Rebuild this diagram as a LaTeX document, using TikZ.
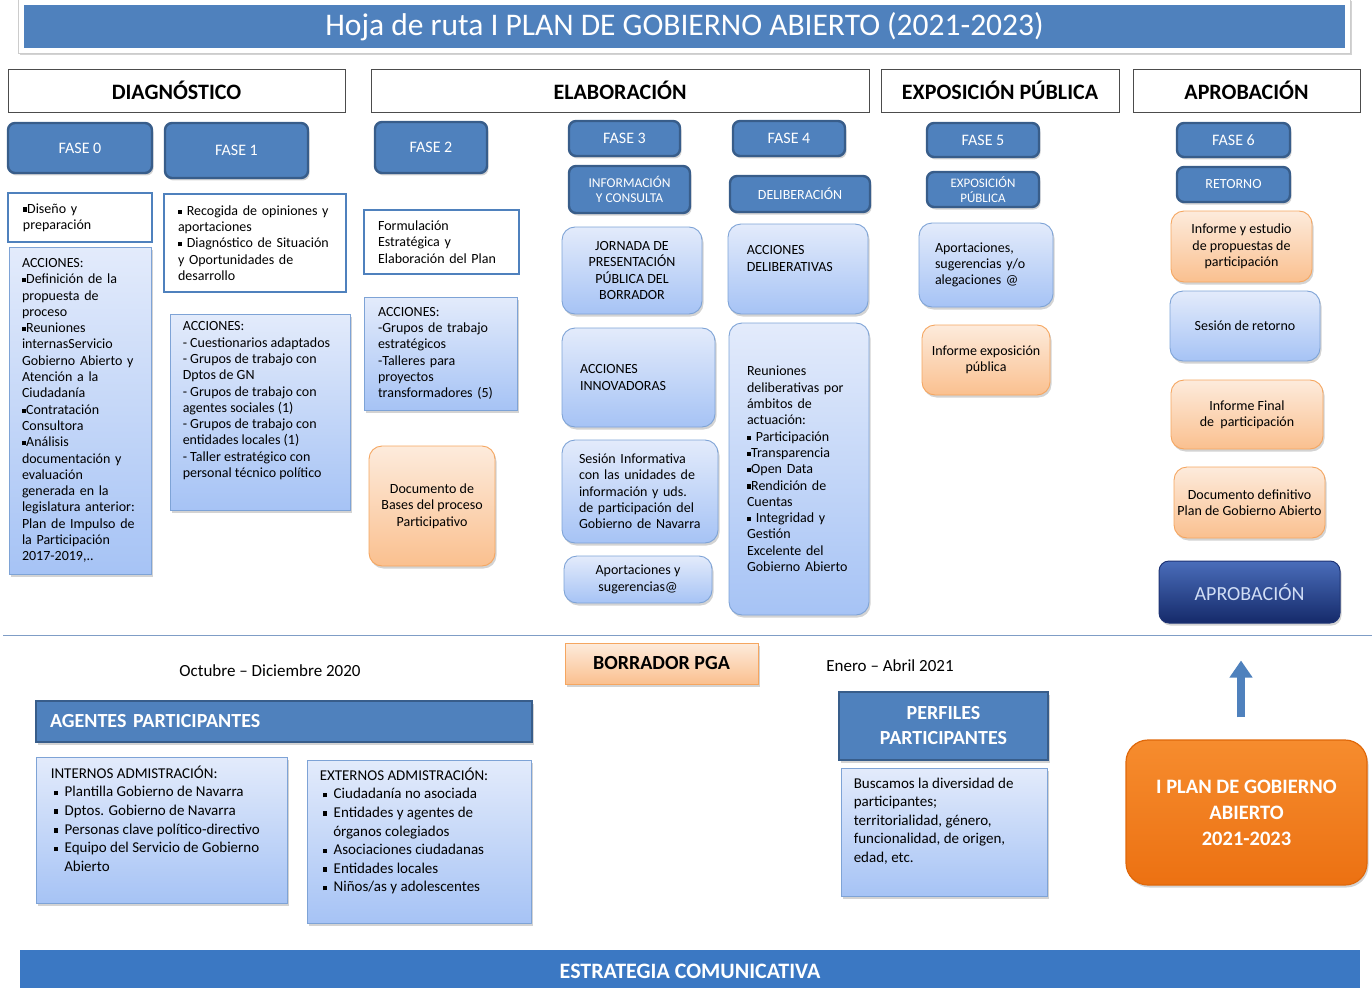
\documentclass[tikz,border=0pt]{standalone}
\usepackage{fontspec}
\setmainfont{Carlito}
\usetikzlibrary{shadows,arrows.meta}

\definecolor{azul}{HTML}{4F81BD}
\definecolor{azulborde}{HTML}{385D8A}
\definecolor{celestearriba}{HTML}{E3EBFB}
\definecolor{celesteabajo}{HTML}{A6C3F5}
\definecolor{celesteborde}{HTML}{7EA3D6}
\definecolor{naranjaarriba}{HTML}{FDEBDC}
\definecolor{naranjaabajo}{HTML}{FAC08F}
\definecolor{naranjaborde}{HTML}{F5A660}
\definecolor{planarriba}{HTML}{F68C2E}
\definecolor{planabajo}{HTML}{EC7112}
\definecolor{planborde}{HTML}{E0680A}
\definecolor{marinoarriba}{HTML}{4A6DBA}
\definecolor{marinoabajo}{HTML}{152A6A}
\definecolor{marinoborde}{HTML}{1E3475}
\definecolor{marinotexto}{HTML}{D0DDF5}
\definecolor{franja}{HTML}{3B78C3}
\definecolor{linea}{HTML}{7F9DC6}

\newcommand{\bul}{\rule[.22ex]{.62ex}{.62ex}}
\newcommand{\vineta}{\hspace*{3pt}\bul\hspace{6.5pt}}

\begin{document}
\begin{tikzpicture}[x=1pt,y=-1pt,inner sep=2pt,
    sombra/.style={drop shadow={shadow xshift=1.5pt,shadow yshift=-2.5pt,opacity=.35}},
    etapa/.style={draw=black!70,fill=white,line width=.9pt,font=\fontsize{22}{24}\selectfont\bfseries},
    fase/.style={draw=azulborde,fill=azul,line width=2.4pt,rounded corners=7pt,text=white,sombra,font=\fontsize{16}{18}\selectfont},
    subfase/.style={fase,align=center,font=\fontsize{13.5}{15.5}\selectfont},
    marco/.style={draw=azul,fill=white,line width=2.4pt,align=left,font=\fontsize{14}{16.3}\selectfont},
    celeste/.style={draw=celesteborde,top color=celestearriba,bottom color=celesteabajo,line width=.9pt,sombra,font=\fontsize{14}{16.3}\selectfont},
    burbuja/.style={celeste,rounded corners=13pt},
    naranja/.style={draw=naranjaborde,top color=naranjaarriba,bottom color=naranjaabajo,line width=.9pt,rounded corners=13pt,sombra,align=center,font=\fontsize{14}{16.3}\selectfont},
    barra/.style={draw=azulborde,fill=azul,line width=2pt,text=white,sombra,font=\fontsize{20}{25}\selectfont\bfseries},
    texto/.style={anchor=north west,inner sep=0pt,align=left,font=\fontsize{14}{16.3}\selectfont},
    fecha/.style={font=\fontsize{17}{19}\selectfont},
    flecha/.style={-{Triangle[width=22pt,length=17pt]},line width=8pt,azul}]
\useasboundingbox (0,0) rectangle (1372,987);

% titulo
\node[sombra,draw=black!20,fill=white,minimum width=1332pt,minimum height=54pt] (marcotit) at (684,26) {};
\node[fill=azul,text=white,minimum width=1321pt,minimum height=43pt,font=\fontsize{31.5}{33}\selectfont] (titulo) at (684.5,26.5) {Hoja de ruta I PLAN DE GOBIERNO ABIERTO (2021-2023)};

% etapas
\node[etapa,minimum width=337pt,minimum height=43pt] (diag) at (176.5,90.5) {DIAGNÓSTICO};
\node[etapa,minimum width=498pt,minimum height=43pt] (elab) at (620,90.5) {ELABORACIÓN};
\node[etapa,minimum width=238pt,minimum height=43pt] (expo) at (1000,90.5) {EXPOSICIÓN PÚBLICA};
\node[etapa,minimum width=227pt,minimum height=43pt] (apro) at (1246.5,90.5) {APROBACIÓN};

% fases
\node[fase,minimum width=144pt,minimum height=50pt] (f0) at (80,148) {FASE 0};
\node[fase,minimum width=143pt,minimum height=55pt] (f1) at (236.5,150.5) {FASE 1};
\node[fase,minimum width=112pt,minimum height=51pt] (f2) at (431,147.5) {FASE 2};
\node[fase,minimum width=111pt,minimum height=35pt] (f3) at (624.5,138.5) {FASE 3};
\node[fase,minimum width=112pt,minimum height=35pt] (f4) at (789,138.5) {FASE 4};
\node[fase,minimum width=112pt,minimum height=34pt] (f5) at (983,140) {FASE 5};
\node[fase,minimum width=113pt,minimum height=34pt] (f6) at (1233.5,140) {FASE 6};

\node[subfase,minimum width=121pt,minimum height=47pt] (info) at (629.5,189.5) {INFORMACIÓN\\Y CONSULTA};
\node[subfase,minimum width=140pt,minimum height=36pt,font=\fontsize{14}{16}\selectfont] (delib) at (800,194) {DELIBERACIÓN};
\node[subfase,minimum width=112pt,minimum height=35pt,font=\fontsize{13}{14.5}\selectfont] (expub) at (983,189.5) {EXPOSICIÓN\\PÚBLICA};
\node[subfase,minimum width=113pt,minimum height=35pt,font=\fontsize{14}{16}\selectfont] (retorno) at (1233.5,184.5) {RETORNO};

% diagnostico
\node[marco,minimum width=144pt,minimum height=49pt,text width=114pt] (obj0) at (80,217.5) {\bul Diseño y\\preparación};
\node[celeste,minimum width=142pt,minimum height=327pt,text width=116pt,align=left] (acc0) at (80,410.5) {ACCIONES:\\\bul Definición de la\\propuesta de\\proceso\\\bul Reuniones\\internasServicio\\Gobierno Abierto y\\Atención a la\\Ciudadanía\\\bul Contratación\\Consultora\\\bul Análisis\\documentación y\\evaluación\\generada en la\\legislatura anterior:\\Plan de Impulso de\\la Participación\\2017-2019,..};
\node[marco,minimum width=182pt,minimum height=98pt,text width=154pt] (obj1) at (255,243) {\bul\ Recogida de opiniones y\\aportaciones\\\bul\ Diagnóstico de Situación\\y Oportunidades de\\desarrollo};
\node[celeste,minimum width=180pt,minimum height=196pt] (acc1) at (260,412) {};
\node[texto] (acc1t) at ([xshift=13pt,yshift=-8pt]acc1.north west) {ACCIONES:\\- Cuestionarios adaptados\\- Grupos de trabajo con\\Dptos de GN\\- Grupos de trabajo con\\agentes sociales (1)\\- Grupos de trabajo con\\entidades locales (1)\\- Taller estratégico con\\personal técnico político};

% elaboracion
\node[marco,minimum width=155pt,minimum height=64pt,text width=127pt] (obj2) at (441.5,242) {Formulación\\Estratégica y\\Elaboración del Plan};
\node[celeste,minimum width=153pt,minimum height=113pt,text width=125pt,align=left] (acc2) at (440.5,353.5) {ACCIONES:\\-Grupos de trabajo\\estratégicos\\-Talleres para\\proyectos\\transformadores (5)};
\node[naranja,minimum width=126pt,minimum height=120pt] (bases) at (432,506) {Documento de\\Bases del proceso\\Participativo};

\node[burbuja,minimum width=140pt,minimum height=87pt,align=center] (jornada) at (632,270.5) {JORNADA DE\\PRESENTACIÓN\\PÚBLICA DEL\\BORRADOR};
\node[burbuja,minimum width=153pt,minimum height=99pt,text width=117pt,align=left] (innov) at (638.5,377.5) {ACCIONES\\INNOVADORAS};
\node[burbuja,minimum width=156pt,minimum height=103pt,text width=122pt,align=left] (sesinfo) at (640,491.5) {Sesión Informativa\\con las unidades de\\información y uds.\\de participación del\\Gobierno de Navarra};
\node[burbuja,minimum width=148pt,minimum height=47pt,align=center] (aport3) at (638,579.5) {Aportaciones y\\sugerencias@};

\node[burbuja,minimum width=140pt,minimum height=90pt] (accdelib) at (798,269) {};
\node[texto] (accdelibt) at ([xshift=19pt,yshift=-22pt]accdelib.north west) {ACCIONES\\DELIBERATIVAS};
\node[burbuja,minimum width=140pt,minimum height=292pt,text width=104pt,align=left] (reun) at (799,469) {Reuniones\\deliberativas por\\ámbitos de\\actuación:\\\bul\ Participación\\\bul Transparencia\\\bul Open Data\\\bul Rendición de\\Cuentas\\\bul\ Integridad y\\Gestión\\Excelente del\\Gobierno Abierto};

% exposicion publica
\node[burbuja,minimum width=134pt,minimum height=84pt,text width=102pt,align=left] (aport5) at (986,265) {Aportaciones,\\sugerencias y/o\\alegaciones @};
\node[naranja,minimum width=128pt,minimum height=70pt] (infexpo) at (986,360) {Informe exposición\\pública};

% aprobacion
\node[naranja,minimum width=141pt,minimum height=71pt] (infest) at (1241.5,246.5) {Informe y estudio\\de propuestas de\\participación};
\node[burbuja,minimum width=150pt,minimum height=70pt] (sesret) at (1245,326) {Sesión de retorno};
\node[naranja,minimum width=152pt,minimum height=69pt] (inffinal) at (1247,414.5) {Informe Final\\de\ \ participación};
\node[naranja,minimum width=151pt,minimum height=71pt] (docdef) at (1249.5,502.5) {Documento definitivo\\Plan de Gobierno Abierto};
\node[draw=marinoborde,top color=marinoarriba,bottom color=marinoabajo,rounded corners=10pt,line width=1pt,sombra,minimum width=181pt,minimum height=62pt,text=marinotexto,font=\fontsize{20}{22}\selectfont] (aprob) at (1249.5,592) {APROBACIÓN};

\draw[linea,line width=1pt] (3,635) -- (1372,635);

% parte inferior
\node[fecha] (oct) at (270,671) {Octubre – Diciembre 2020};
\node[naranja,sharp corners,minimum width=193pt,minimum height=41pt,font=\fontsize{20}{22}\selectfont\bfseries] (borrador) at (661.5,663.5) {BORRADOR PGA};
\node[fecha] (ene) at (890,666) {Enero – Abril 2021};

\node[barra,minimum width=496pt,minimum height=41pt,text width=468pt,align=left] (agentes) at (284,721.5) {AGENTES PARTICIPANTES};
\node[celeste,minimum width=251pt,minimum height=146pt] (internos) at (161.5,830) {};
\node[texto,font=\fontsize{15}{18.6}\selectfont] (internost) at ([xshift=15pt,yshift=-9pt]internos.north west) {INTERNOS ADMISTRACIÓN:\\\vineta Plantilla Gobierno de Navarra\\\vineta Dptos. Gobierno de Navarra\\\vineta Personas clave político-directivo\\\vineta Equipo del Servicio de Gobierno\\\hspace*{13.5pt}Abierto};
\node[celeste,minimum width=224pt,minimum height=163pt] (externos) at (419,841.5) {};
\node[texto,font=\fontsize{15}{18.6}\selectfont] (externost) at ([xshift=13pt,yshift=-8pt]externos.north west) {EXTERNOS ADMISTRACIÓN:\\\vineta Ciudadanía no asociada\\\vineta Entidades y agentes de\\\hspace*{13.5pt}órganos colegiados\\\vineta Asociaciones ciudadanas\\\vineta Entidades locales\\\vineta Niños/as y adolescentes};

\node[barra,minimum width=209pt,minimum height=68pt,align=center] (perfiles) at (943.5,726) {PERFILES\\PARTICIPANTES};
\node[celeste,minimum width=206pt,minimum height=128pt] (buscamos) at (944,832) {};
\node[texto,font=\fontsize{15}{18.5}\selectfont] (buscamost) at ([xshift=13pt,yshift=-10pt]buscamos.north west) {Buscamos la diversidad de\\participantes;\\territorialidad, género,\\funcionalidad, de origen,\\edad, etc.};

\node[draw=planborde,top color=planarriba,bottom color=planabajo,rounded corners=22pt,line width=1.2pt,sombra,minimum width=241pt,minimum height=145pt,align=center,text=white,font=\fontsize{20.5}{26}\selectfont\bfseries] (plan) at (1246.5,812.5) {I PLAN DE GOBIERNO\\ABIERTO\\2021-2023};
\draw[flecha] ([xshift=-5.5pt,yshift=22pt]plan.north) -- ([xshift=-8.5pt,yshift=-37pt]aprob.south);

\node[fill=franja,minimum width=1340pt,minimum height=42pt,text=white,font=\fontsize{22}{24}\selectfont\bfseries] (estrategia) at (690,971) {ESTRATEGIA COMUNICATIVA};
\end{tikzpicture}
\end{document}
